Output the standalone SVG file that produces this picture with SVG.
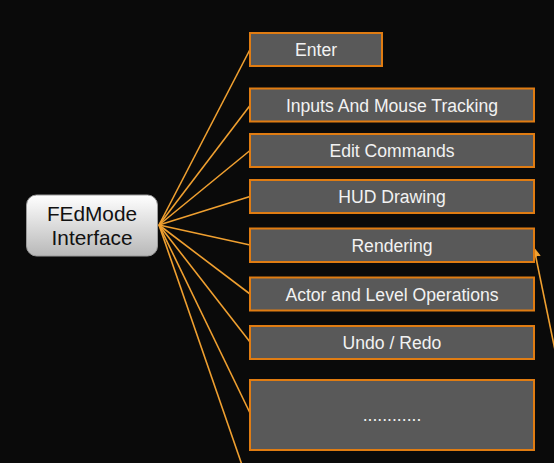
<svg xmlns="http://www.w3.org/2000/svg" width="554" height="463" viewBox="0 0 554 463">
<defs>
<linearGradient id="hubg" x1="0" y1="0" x2="0" y2="1">
<stop offset="0" stop-color="#ffffff"/>
<stop offset="1" stop-color="#b8b8b8"/>
</linearGradient>
<marker id="ah" markerWidth="10" markerHeight="10" refX="9" refY="5" orient="auto" markerUnits="userSpaceOnUse">
<path d="M0,0 L10,5 L0,10 Z" fill="#F0A030"/>
</marker>
<style>
.box{fill:#595959;stroke:#E07C12;stroke-width:2}
.t{font-family:"Liberation Sans",Arial,sans-serif;font-size:17.6px;fill:#f2f2f2;text-anchor:middle}
.ht{font-family:"Liberation Sans",Arial,sans-serif;font-size:20.8px;fill:#111;text-anchor:middle}
.c{stroke:#F0A030;stroke-width:1.6;fill:none}
</style>
</defs>
<rect width="554" height="463" fill="#0a0a0a"/>
<g id="connectors">
<line class="c" x1="159" y1="225" x2="250" y2="49.5"/>
<line class="c" x1="159" y1="225" x2="250" y2="105.5"/>
<line class="c" x1="159" y1="225" x2="250" y2="150.5"/>
<line class="c" x1="159" y1="225" x2="250" y2="196.5"/>
<line class="c" x1="159" y1="225" x2="250" y2="245"/>
<line class="c" x1="159" y1="225" x2="250" y2="294"/>
<line class="c" x1="159" y1="225" x2="250" y2="342"/>
<line class="c" x1="159" y1="225" x2="250" y2="413"/>
<line class="c" x1="159" y1="225" x2="242" y2="465"/>
<line class="c" x1="556" y1="355" x2="534" y2="248" marker-end="url(#ah)"/>
</g>
<g id="hub">
<rect x="26.5" y="195" width="131" height="61" rx="10" fill="url(#hubg)" stroke="#9a9a9a" stroke-width="1"/>
<text class="ht" x="92" y="220.5">FEdMode</text>
<text class="ht" x="92" y="244.5">Interface</text>
</g>
<g id="enter"><rect class="box" x="250" y="33" width="132" height="33"/><text class="t" x="316" y="56">Enter</text></g>
<g id="inputs"><rect class="box" x="250" y="88.5" width="284" height="33"/><text class="t" x="392" y="111.5">Inputs And Mouse Tracking</text></g>
<g id="edit"><rect class="box" x="250" y="134" width="284" height="33"/><text class="t" x="392" y="157">Edit Commands</text></g>
<g id="hud"><rect class="box" x="250" y="180" width="284" height="33"/><text class="t" x="392" y="203">HUD Drawing</text></g>
<g id="rendering"><rect class="box" x="250" y="228.5" width="284" height="33.5"/><text class="t" x="392" y="251.5">Rendering</text></g>
<g id="actor"><rect class="box" x="250" y="277.5" width="284" height="33"/><text class="t" x="392" y="300.5">Actor and Level Operations</text></g>
<g id="undo"><rect class="box" x="250" y="326" width="284" height="33"/><text class="t" x="392" y="349">Undo / Redo</text></g>
<g id="more"><rect class="box" x="250" y="380" width="284" height="70"/><text class="t" x="392" y="421">............</text></g>
</svg>
